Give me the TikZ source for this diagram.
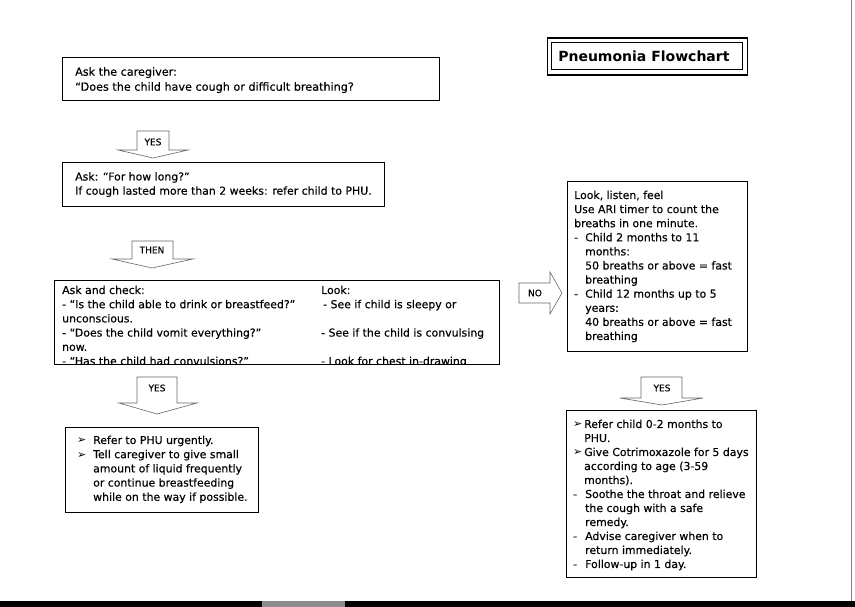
\documentclass[tikz,border=0pt]{standalone}
\usepackage{fontspec}
\setmainfont{DejaVu Sans}[FakeBold=0.35]
\newfontfamily\symf{DejaVu Sans}
\newcommand{\bul}[1]{\makebox[#1][l]{\symf\fontsize{11}{11}\selectfont ➢}}
\newcommand{\dsh}[1]{\makebox[#1][l]{-}}
\begin{document}
\begin{tikzpicture}[x=1pt,y=-1pt,
  box/.style={draw=black, line width=0.9pt, inner sep=0pt, anchor=north west},
  txt/.style={anchor=north west, inner sep=0pt, align=left, font=\fontsize{10.9}{14.2}\selectfont},
  barrow/.style={draw=black!60, line width=0.6pt, fill=white},
  alabel/.style={font=\fontsize{9}{10}\selectfont, inner sep=0pt}]
\useasboundingbox (0,0) rectangle (855,607);
\fill[white] (0,0) rectangle (855,607);
% page edges
\fill[black] (0,601) rectangle (855,607);
\fill[black!45] (262,601) rectangle (345,607);
\draw[black!50, line width=1pt] (851.5,0) -- (851.5,601);

% title
\node[box, line width=1.6pt, minimum width=200pt, minimum height=36.5pt] (titleo) at (546.5,37.5) {};
\node[box, line width=0.8pt, minimum width=191pt, minimum height=27.5pt] (titlei) at (551,42) {};
\node[font=\symf\bfseries\fontsize{14}{16}\selectfont, inner sep=0pt] (title) at ([xshift=-3pt]titlei.center) {Pneumonia Flowchart};

% box 1
\node[box, minimum width=377pt, minimum height=43pt] (b1) at (62,57) {};
\node[txt, font=\fontsize{11.2}{15}\selectfont] (t1) at (75,67) {Ask the caregiver:\\“Does the child have cough or difficult breathing?};

% arrow YES 1
\draw[barrow] (137,131) -- (169,131) -- (169,150) -- (188,150) -- (153,158) -- (118,150) -- (137,150) -- cycle;
\node[alabel] (a1) at (153,142) {YES};

% box 2
\node[box, minimum width=322pt, minimum height=44pt] (b2) at (62,162) {};
\node[txt] (t2) at (75,172) {Ask: “For how long?”\\If cough lasted more than 2 weeks: refer child to PHU.};

% arrow THEN
\draw[barrow] (132,241) -- (173,241) -- (173,259) -- (193,259) -- (152,268) -- (112,259) -- (132,259) -- cycle;
\node[alabel] (a2) at (152,250) {THEN};

% box 3 (clipped)
\node[box, minimum width=445pt, minimum height=84pt] (b3) at (54,280) {};
\begin{scope}
\clip (54.5,280.5) rectangle (498.5,363.5);
\node[txt] (t3l) at (62,285.5) {Ask and check:\\- “Is the child able to drink or breastfeed?”\\unconscious.\\- “Does the child vomit everything?”\\now.\\- “Has the child had convulsions?”};
\node[txt] (t3r) at (321,285.5) {Look:\\\hspace*{2pt}- See if child is sleepy or\\\mbox{}\\- See if the child is convulsing\\\mbox{}\\- Look for chest in-drawing};
\end{scope}

% arrow NO
\draw[barrow] (519,283) -- (550,283) -- (550,272) -- (562,293) -- (550,314) -- (550,303) -- (519,303) -- cycle;
\node[alabel] (a3) at (535,293) {NO};

% box 4
\node[box, minimum width=180pt, minimum height=170pt] (b4) at (567,181) {};
\node[txt, font=\fontsize{10.9}{14.1}\selectfont] (t4) at (574,190.5) {Look, listen, feel\\Use ARI timer to count the\\breaths in one minute.\\\dsh{11pt}Child 2 months to 11\\\hspace*{11pt}months:\\\hspace*{11pt}50 breaths or above = fast\\\hspace*{11pt}breathing\\\dsh{11pt}Child 12 months up to 5\\\hspace*{11pt}years:\\\hspace*{11pt}40 breaths or above = fast\\\hspace*{11pt}breathing};

% arrow YES left
\draw[barrow] (137,377) -- (177,377) -- (177,403) -- (197,403) -- (157,414) -- (119,403) -- (137,403) -- cycle;
\node[alabel] (a4) at (157,388) {YES};

% box 5
\node[box, minimum width=193pt, minimum height=85pt] (b5) at (65,427) {};
\node[txt] (t5) at (77,435.5) {\bul{16pt}Refer to PHU urgently.\\\bul{16pt}Tell caregiver to give small\\\hspace*{16pt}amount of liquid frequently\\\hspace*{16pt}or continue breastfeeding\\\hspace*{16pt}while on the way if possible.};

% arrow YES right
\draw[barrow] (641,377) -- (682,377) -- (682,398) -- (703,398) -- (662,405) -- (620,398) -- (641,398) -- cycle;
\node[alabel] (a5) at (662,388) {YES};

% box 6
\node[box, minimum width=190pt, minimum height=167pt] (b6) at (566,410) {};
\node[txt, font=\fontsize{10.9}{14.0}\selectfont] (t6) at (573,419.5) {\bul{11pt}Refer child 0-2 months to\\\hspace*{11pt}PHU.\\\bul{11pt}Give Cotrimoxazole for 5 days\\\hspace*{11pt}according to age (3-59\\\hspace*{11pt}months).\\\dsh{12pt}Soothe the throat and relieve\\\hspace*{12pt}the cough with a safe\\\hspace*{12pt}remedy.\\\dsh{12pt}Advise caregiver when to\\\hspace*{12pt}return immediately.\\\dsh{12pt}Follow-up in 1 day.};
\end{tikzpicture}
\end{document}
